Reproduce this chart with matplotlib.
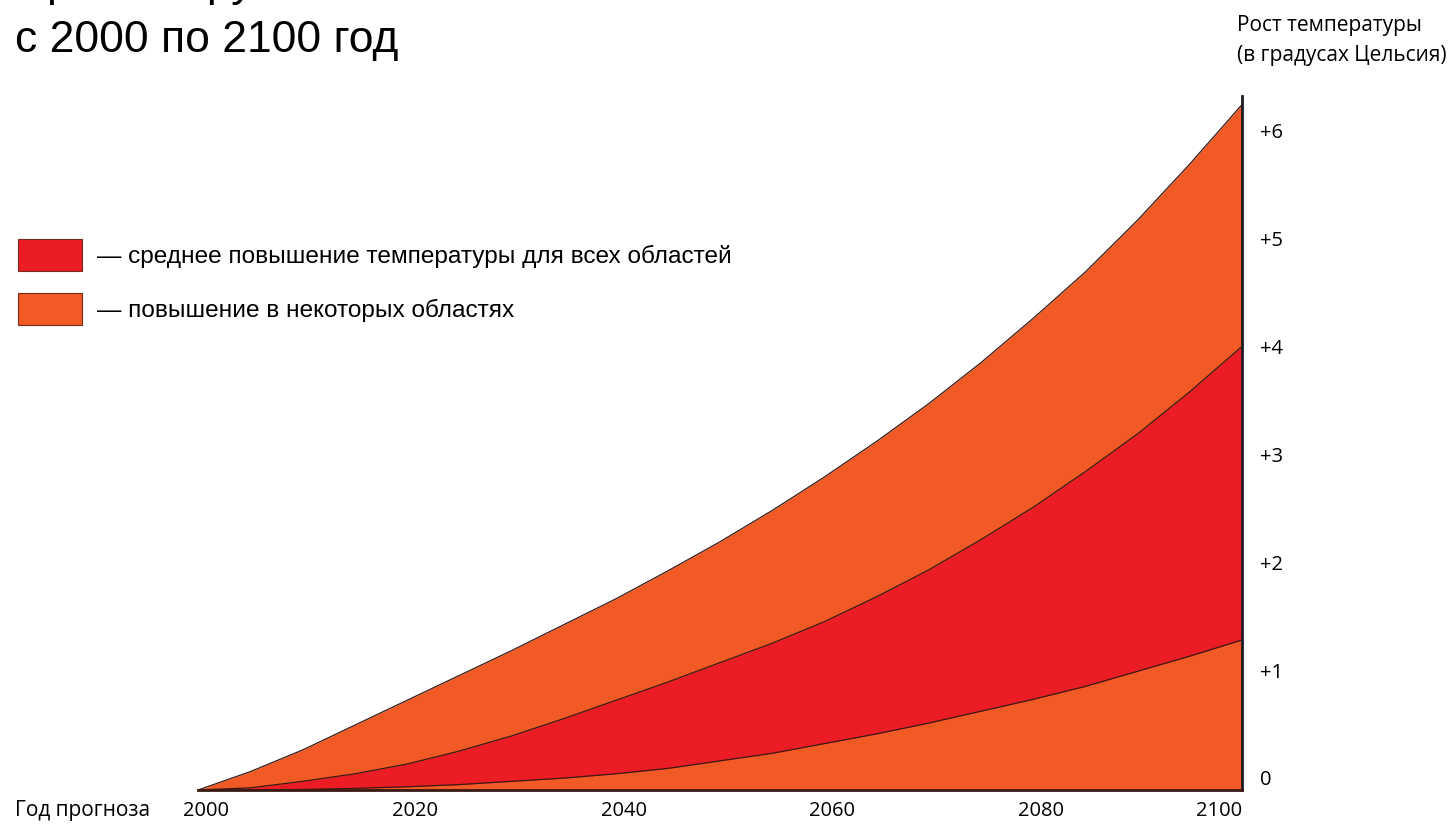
import numpy as np
import matplotlib.pyplot as plt
from matplotlib.patches import Rectangle
from matplotlib.transforms import ScaledTranslation

# Data (every 5 years)
years = list(range(2000, 2101, 5))
upper = [0.0, 0.17, 0.37, 0.60, 0.83, 1.06, 1.29, 1.53, 1.77, 2.03, 2.30,
         2.59, 2.90, 3.23, 3.58, 3.96, 4.37, 4.80, 5.28, 5.80, 6.35]
middle = [0.0, 0.02, 0.08, 0.15, 0.24, 0.36, 0.50, 0.66, 0.83, 1.00, 1.18,
          1.36, 1.56, 1.79, 2.04, 2.32, 2.62, 2.95, 3.30, 3.69, 4.11]
lower = [0.0, 0.0, 0.005, 0.015, 0.03, 0.05, 0.08, 0.11, 0.15, 0.20, 0.27,
         0.34, 0.43, 0.52, 0.62, 0.73, 0.84, 0.96, 1.10, 1.24, 1.39]

xtick_years = [2000, 2020, 2040, 2060, 2080, 2100]
ytick_vals = [0, 1, 2, 3, 4, 5, 6]
ytick_labels = ["0", "+1", "+2", "+3", "+4", "+5", "+6"]

legend_labels = ["— среднее повышение температуры для всех областей",
                 "— повышение в некоторых областях"]

ORANGE = "#F15A24"
RED = "#EC1C24"
EDGE = "#3a1a14"
W, H = 1454, 829


def fx(x):
    return x / W


def fy(y):
    return 1 - y / H


fig = plt.figure(figsize=(W / 100, H / 100), dpi=100)
ax = fig.add_axes([fx(198), fy(791), (1242 - 198) / W, (791 - 97) / H])

ax.fill_between(years, 0, upper, color=ORANGE, lw=0)
ax.fill_between(years, lower, middle, color=RED, lw=0)
for s in (upper, middle, lower):
    ax.plot(years, s, color=EDGE, lw=0.9)

ax.set_xlim(2000, 2100)
ax.set_ylim(0, 6.43)

for side in ("left", "top"):
    ax.spines[side].set_visible(False)
ax.spines["right"].set_color("#1e1a22")
ax.spines["right"].set_linewidth(2)
ax.spines["bottom"].set_color("#3a1a14")
ax.spines["bottom"].set_linewidth(2)

tick_font = dict(family="Open Sans", size=14.5)

ax.set_xticks(xtick_years)
ax.set_xticklabels([str(y) for y in xtick_years], fontdict=tick_font)
ax.xaxis.get_ticklabels()[-1].set_ha("right")
ax.tick_params(axis="x", length=0, pad=7)
xshift = ScaledTranslation(8 / 100, 0, fig.dpi_scale_trans)
for t in ax.xaxis.get_major_ticks()[:-1]:
    t.label1.set_transform(t.label1.get_transform() + xshift)

ax.yaxis.tick_right()
ax.set_yticks(ytick_vals)
ax.set_yticklabels(ytick_labels, fontdict=tick_font)
ax.tick_params(axis="y", length=0, pad=13)
shift = ScaledTranslation(0, 13 / 100, fig.dpi_scale_trans)
for t in ax.yaxis.get_major_ticks():
    t.label2.set_transform(t.label2.get_transform() + shift)

fig.text(fx(15), fy(816), "Год прогноза", family="Open Sans", fontsize=15,
         va="baseline")

# Title (first line is cut off by the top edge in the reference)
fig.text(fx(15), fy(-4), "Прогнозируемое повышение", family="Liberation Sans",
         fontsize=32, va="baseline")
fig.text(fx(15), fy(52), "с 2000 по 2100 год", family="Liberation Sans",
         fontsize=32, va="baseline")

fig.text(fx(1237), fy(31), "Рост температуры", family="Open Sans",
         fontsize=15, va="baseline")
fig.text(fx(1237), fy(61), "(в градусах Цельсия)", family="Open Sans",
         fontsize=15, va="baseline")

# Legend
for i, (lab, col) in enumerate(zip(legend_labels, [RED, ORANGE])):
    top = 240 + i * 54
    fig.patches.append(Rectangle((fx(18), fy(top + 32)), 64 / W, 32 / H,
                                 transform=fig.transFigure, fc=col,
                                 ec="#7a2a1a", lw=0.8))
    fig.text(fx(97), fy(top + 16), lab, family="Liberation Sans",
             fontsize=17.6, va="center")

fig.savefig("out.png", dpi=100)
